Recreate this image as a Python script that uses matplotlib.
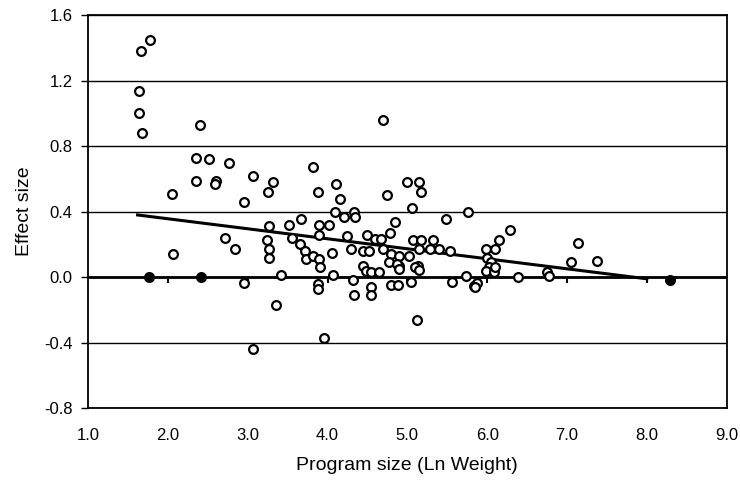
import numpy as np
import matplotlib
matplotlib.use('Agg')
import matplotlib.pyplot as plt

plt.rcParams['font.family'] = ['Liberation Sans', 'DejaVu Sans']

# open circles (program size, effect size)
xs = [1.78, 1.66, 1.64, 1.64, 1.67,
      2.40, 2.35, 2.52, 2.77, 2.35, 2.60, 2.59, 2.05, 2.95, 3.07, 3.32, 3.25,
      4.70, 3.82, 4.10, 3.88, 4.15, 4.75, 4.99, 5.15, 5.17,
      4.09, 4.33, 4.34, 4.21, 5.06, 5.48, 4.85, 5.76, 6.28, 7.14,
      3.27, 3.52, 3.67, 3.89, 4.02, 3.89,
      2.72, 2.84, 2.07,
      3.24, 3.27, 3.27, 3.56, 3.65, 3.72, 3.73, 3.82, 3.89, 3.90, 4.06,
      4.25, 4.30, 4.50, 4.60, 4.67, 4.70, 4.78, 4.44, 4.52,
      5.07, 5.17, 5.32, 5.15, 5.28, 5.40, 5.54,
      4.79, 4.90, 5.02,
      4.77, 4.90, 5.13, 4.44, 4.48, 4.54, 4.65, 4.87, 4.90, 5.10, 5.14,
      3.42, 4.07,
      2.95, 3.88, 3.88, 4.32, 4.33, 4.54, 4.54, 4.80, 4.88, 5.04,
      3.35, 5.12, 3.95, 3.06,
      6.15, 6.10, 5.98, 6.00, 6.05, 6.02, 5.98, 6.08, 6.10,
      7.05, 7.37, 6.39, 6.75, 6.77, 5.74, 5.56, 5.83, 5.87, 5.85]
ys = [1.45, 1.38, 1.14, 1.00, 0.88,
      0.93, 0.73, 0.72, 0.70, 0.59, 0.585, 0.566, 0.51, 0.46, 0.62, 0.58, 0.52,
      0.96, 0.67, 0.57, 0.52, 0.48, 0.50, 0.58, 0.58, 0.52,
      0.40, 0.40, 0.37, 0.37, 0.42, 0.355, 0.34, 0.40, 0.29, 0.21,
      0.31, 0.32, 0.355, 0.32, 0.32, 0.256,
      0.24, 0.17, 0.14,
      0.23, 0.17, 0.12, 0.24, 0.205, 0.16, 0.11, 0.13, 0.11, 0.06, 0.15,
      0.25, 0.17, 0.256, 0.236, 0.232, 0.17, 0.27, 0.16, 0.16,
      0.23, 0.23, 0.23, 0.17, 0.17, 0.17, 0.16,
      0.14, 0.13, 0.13,
      0.09, 0.07, 0.07, 0.07, 0.04, 0.03, 0.03, 0.08, 0.05, 0.065, 0.045,
      0.015, 0.015,
      -0.035, -0.04, -0.075, -0.015, -0.11, -0.06, -0.11, -0.045, -0.045, -0.03,
      -0.17, -0.26, -0.37, -0.44,
      0.23, 0.17, 0.17, 0.12, 0.09, 0.06, 0.04, 0.03, 0.06,
      0.09, 0.10, 0.0, 0.03, 0.005, 0.01, -0.03, -0.055, -0.035, -0.06]

# points that print as solid dots on the zero line
xs_solid = [1.76, 2.42, 8.29]
ys_solid = [0.0, 0.0, -0.02]

# regression line end points
fit_x = [1.62, 8.0]
fit_y = [0.38, -0.01]

fig = plt.figure(figsize=(7.4, 4.9), dpi=100)
ax = fig.add_axes([0.119, 0.167, 0.863, 0.802])

ax.set_xlim(1, 9)
ax.set_ylim(-0.8, 1.6)
yt = np.arange(-0.8, 1.61, 0.4)
ax.set_yticks(yt)
ax.set_yticklabels(['%.1f' % v for v in yt])
xt = np.arange(1, 9.1, 1)
ax.set_xticks(xt)
ax.set_xticklabels(['%.1f' % v for v in xt])

for v in yt:
    ax.axhline(v, color='black', lw=1.0, zorder=1)
ax.axhline(0, color='black', lw=2.0, zorder=2)
# category axis ticks sit on the zero line
ax.vlines(xt[1:-1], -0.035, 0, color='black', lw=1.5, zorder=2)

ax.plot(fit_x, fit_y, color='black', lw=2.2, zorder=3)

ax.scatter(xs, ys, s=40, facecolors='white', edgecolors='black',
           linewidths=1.6, zorder=4)
ax.scatter(xs_solid, ys_solid, s=40, facecolors='black', edgecolors='black',
           linewidths=1.6, zorder=4)

for s in ax.spines.values():
    s.set_linewidth(1.3)
ax.tick_params(axis='x', length=0, pad=14, labelsize=12)
ax.tick_params(axis='y', length=5, width=1, pad=6, labelsize=12)

ax.set_xlabel('Program size (Ln Weight)', fontsize=14, labelpad=10)
ax.set_ylabel('Effect size', fontsize=14, labelpad=8)

fig.savefig('out.png', dpi=100)
